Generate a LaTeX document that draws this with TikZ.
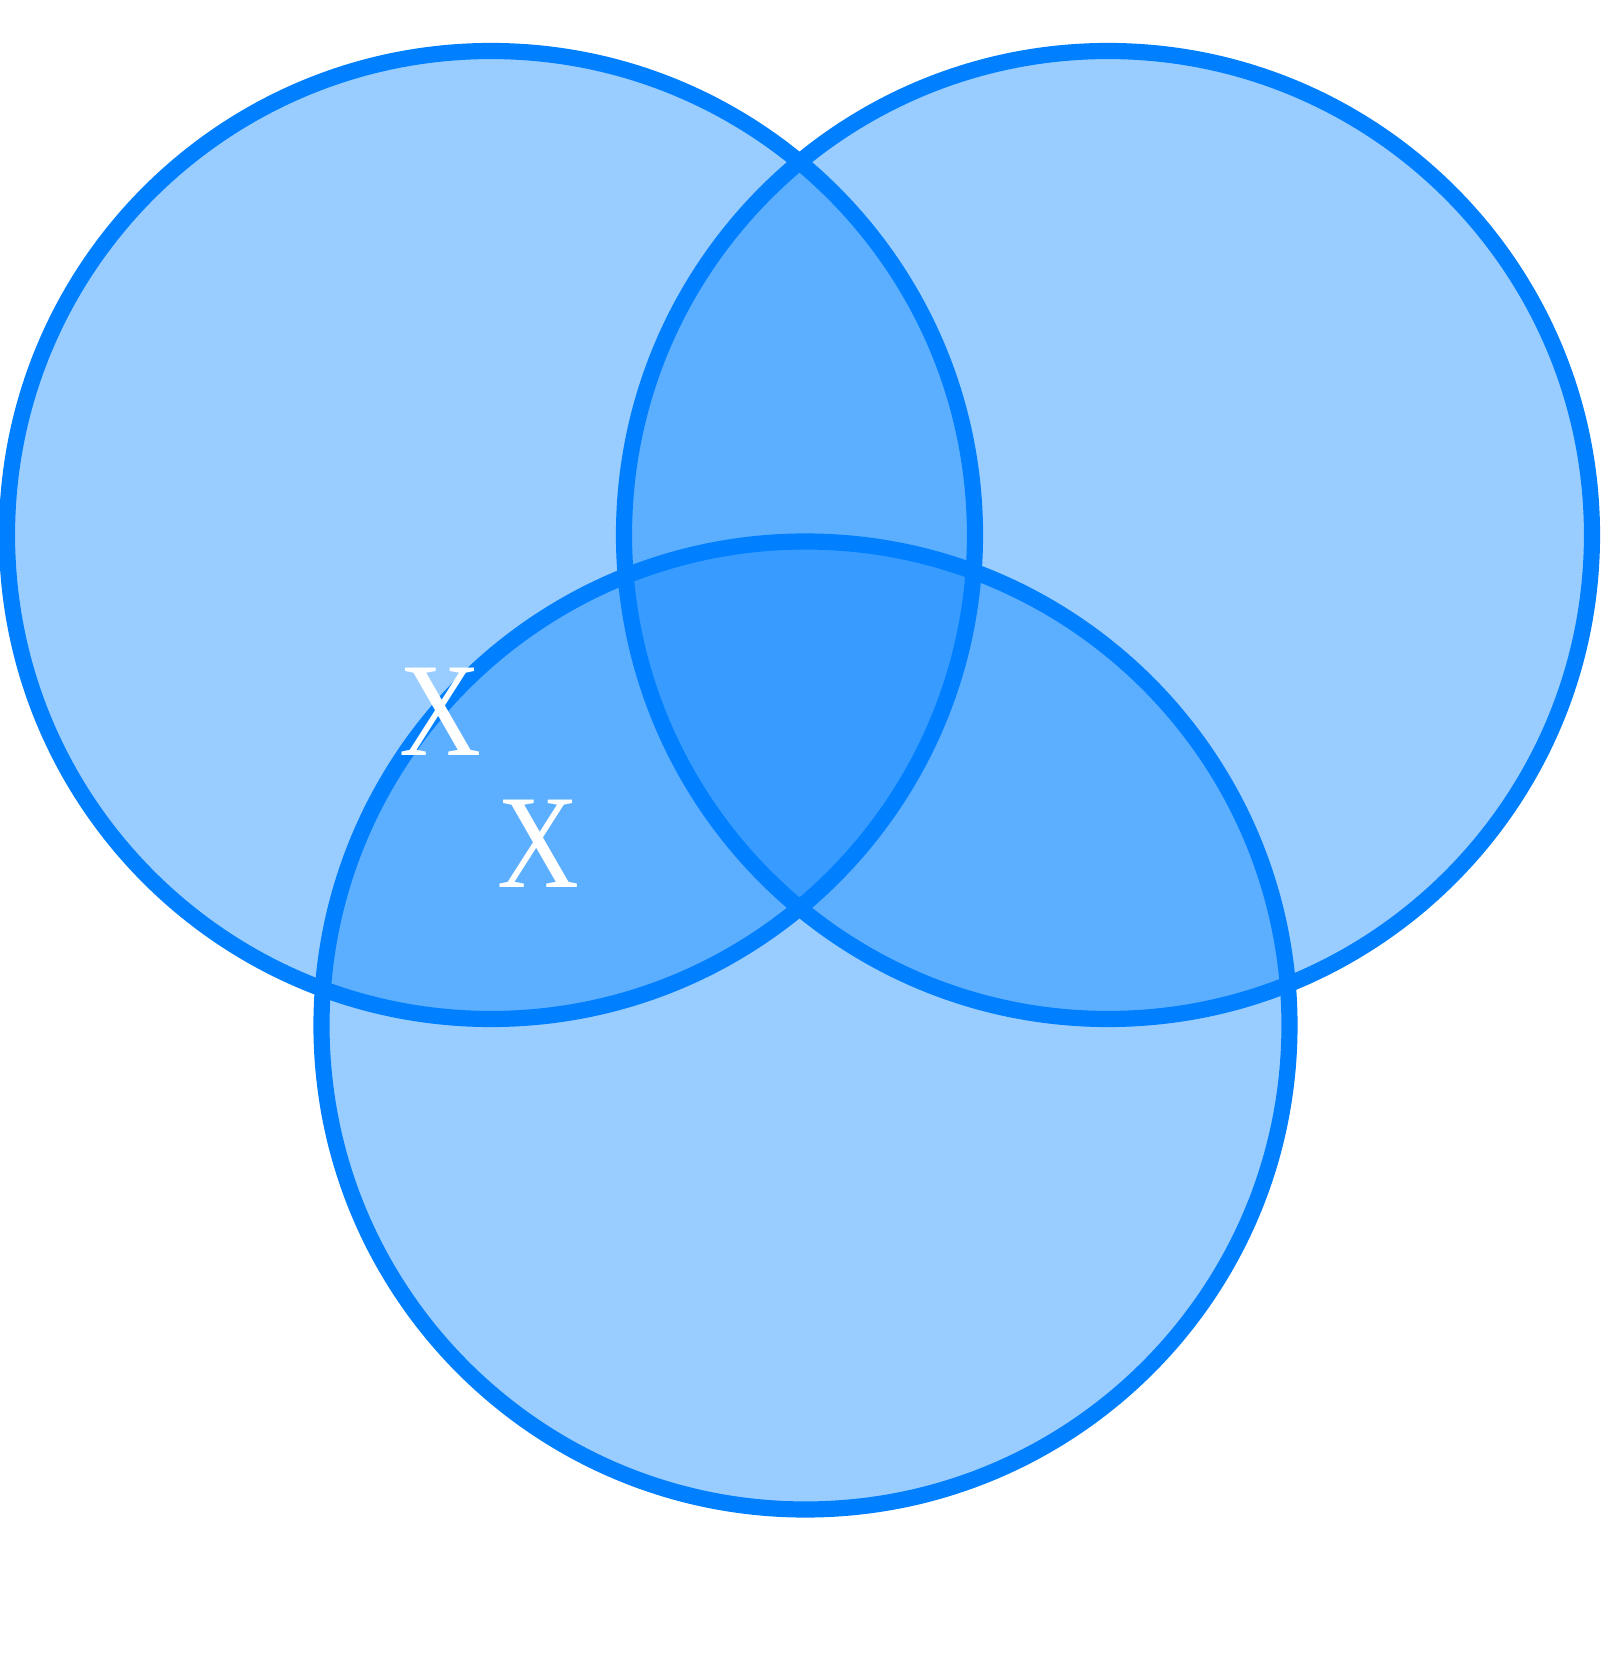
\documentclass[tikz,border=0pt]{standalone}
\usepackage{fontspec}
\setmainfont{Liberation Serif}
\usepackage{xcolor}
\usepackage{tikz}
\definecolor{AzulVenn}{RGB}{0,128,255}

\begin{document}
\begin{tikzpicture}[x=1cm,y=1cm]
  \useasboundingbox (0,0) rectangle (16.24,16.67);
  \coordinate (A) at (4.91,11.32);
  \coordinate (B) at (11.08,11.32);
  \coordinate (C) at (8.055,6.415);

  \foreach \c in {A,B,C}
    \fill[AzulVenn,fill opacity=0.4] (\c) circle (4.84);
  \foreach \c in {A,B,C}
    \draw[AzulVenn,line width=4.6pt] (\c) circle (4.84);

  \node[white,font=\fontsize{38}{40}\selectfont,xscale=0.85] (x1) at (4.405,9.55) {X};
  \node[white,font=\fontsize{38}{40}\selectfont,xscale=0.85] (x2) at (5.385,8.235) {X};
\end{tikzpicture}
\end{document}
